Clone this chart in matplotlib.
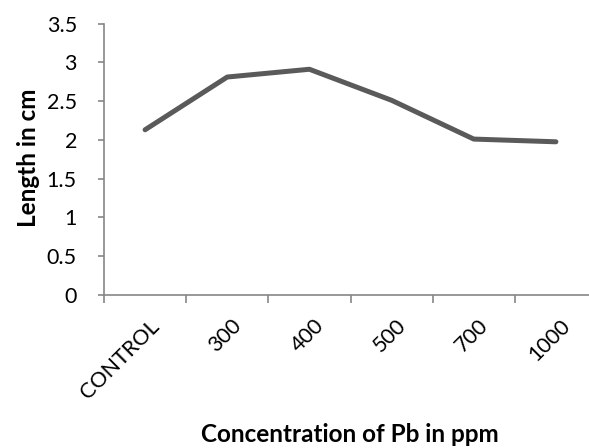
import matplotlib
matplotlib.use("Agg")
import matplotlib.pyplot as plt
import matplotlib.transforms as mtransforms
from matplotlib.ticker import FixedLocator

categories = ["CONTROL", "300", "400", "500", "700", "1000"]
lengths = [2.13, 2.81, 2.91, 2.51, 2.01, 1.975]
y_ticks = [0, 0.5, 1, 1.5, 2, 2.5, 3, 3.5]
y_tick_labels = ["0", "0.5", "1", "1.5", "2", "2.5", "3", "3.5"]

plt.rcParams['font.family'] = ['Lato', 'DejaVu Sans']

fig = plt.figure(figsize=(5.89, 4.48), dpi=100)
W, H = 589, 448
left, right = 104, 597
y0, ytop = 295, 23.5
ax = fig.add_axes([left / W, (H - y0) / H, (right - left) / W, (y0 - ytop) / H])

x = list(range(len(categories)))
ax.plot(x, lengths, color='#5a5a5a', lw=3.6, solid_capstyle='round', solid_joinstyle='round')

ax.set_xlim(-0.5, len(categories) - 0.5)
ax.set_ylim(0, 3.5)

ax.set_yticks(y_ticks)
ax.set_yticklabels(y_tick_labels, fontsize=15.5)

ax.xaxis.set_major_locator(FixedLocator([i - 0.5 for i in range(len(categories) + 1)]))
ax.xaxis.set_major_formatter(plt.NullFormatter())
ax.xaxis.set_minor_locator(FixedLocator(x))
ax.set_xticklabels(categories, minor=True, rotation=45, ha='right', va='top',
                   rotation_mode='anchor', fontsize=15.5)
ax.tick_params(axis='x', which='minor', length=0, pad=15)
ax.tick_params(axis='x', which='major', length=6, width=1.2, color='#868686')
ax.tick_params(axis='y', length=4.5, width=1.2, color='#868686', pad=15)

shift = mtransforms.ScaledTranslation(4 / 100, 0, fig.dpi_scale_trans)
for lbl in ax.xaxis.get_minorticklabels():
    lbl.set_transform(lbl.get_transform() + shift)

for s in ['top', 'right']:
    ax.spines[s].set_visible(False)
for s in ['left', 'bottom']:
    ax.spines[s].set_color('#868686')
    ax.spines[s].set_linewidth(1.2)

fig.text(29 / W, 1 - 158 / H, "Length in cm", rotation=90, ha='center', va='center',
         fontsize=17.5, fontweight='bold')
fig.text(350 / W, 1 - 442 / H, "Concentration of Pb in ppm", ha='center', va='baseline',
         fontsize=17.5, fontweight='bold')

fig.savefig("out.png", dpi=100)
